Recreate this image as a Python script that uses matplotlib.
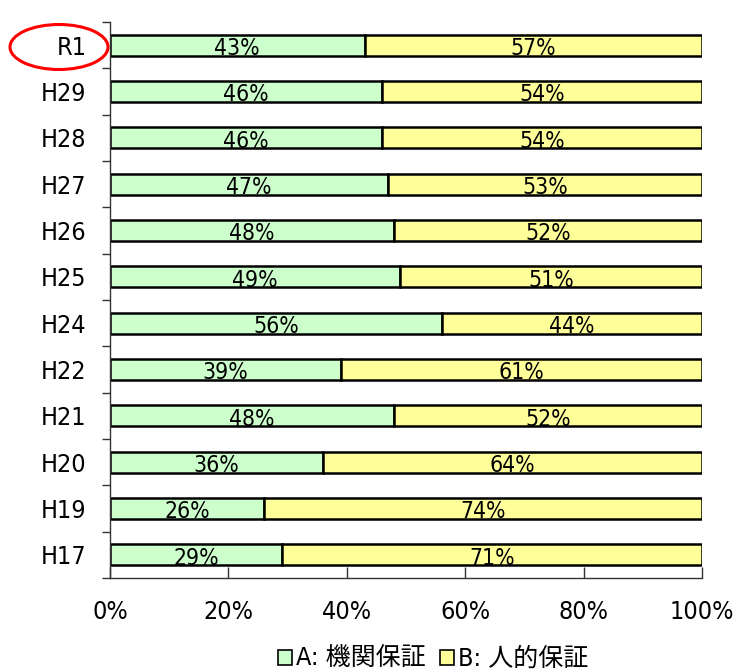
import matplotlib
matplotlib.use("Agg")
import matplotlib.pyplot as plt
from matplotlib.patches import Ellipse, Patch
import numpy as np

plt.rcParams['font.family'] = ['DejaVu Sans', 'Noto Sans CJK JP']
plt.rcParams['font.stretch'] = 'condensed'

categories = ["R1", "H29", "H28", "H27", "H26", "H25", "H24", "H22", "H21", "H20", "H19", "H17"]
a_vals = [43, 46, 46, 47, 48, 49, 56, 39, 48, 36, 26, 29]
b_vals = [57, 54, 54, 53, 52, 51, 44, 61, 52, 64, 74, 71]
series_names = ["A: 機関保証", "B: 人的保証"]
x_ticks = [0, 20, 40, 60, 80, 100]

fig = plt.figure(figsize=(7.34, 6.71), dpi=100)
ax = fig.add_axes([110/734, 1-578/671, (702-110)/734, (578-22)/671])

y = np.arange(len(categories))
h = 0.45
ca, cb = "#CCFFCC", "#FFFF99"
ax.barh(y, a_vals, height=h, color=ca, edgecolor="black", linewidth=1.8)
ax.barh(y, b_vals, left=a_vals, height=h, color=cb, edgecolor="black", linewidth=1.8)

for i in range(len(categories)):
    ax.text(a_vals[i]/2, y[i]+0.215, f"{a_vals[i]}%", ha="center", va="baseline", fontsize=16.5)
    ax.text(a_vals[i] + b_vals[i]/2, y[i]+0.215, f"{b_vals[i]}%", ha="center", va="baseline", fontsize=16.5)

ax.set_ylim(len(categories)-0.5, -0.5)
ax.set_xlim(0, 100)
ax.set_yticks(y)
ax.set_yticklabels(categories, fontsize=18)
ax.set_yticks(np.arange(-0.5, len(categories), 1), minor=True)
ax.tick_params(axis="y", which="major", length=0, pad=17)
ax.tick_params(axis="y", which="minor", length=6, direction="out", width=1, color="#333333")
ax.set_xticks(x_ticks)
ax.set_xticklabels([f"{t}%" for t in x_ticks], fontsize=18)
ax.tick_params(axis="x", direction="in", length=8, pad=16, width=1, color="#333333")
for s in ["top", "right"]:
    ax.spines[s].set_visible(False)
for s in ["left", "bottom"]:
    ax.spines[s].set_color("#333333")
    ax.spines[s].set_linewidth(1)

handles = [Patch(facecolor=ca, edgecolor="black", linewidth=1.2),
           Patch(facecolor=cb, edgecolor="black", linewidth=1.2)]
fig.legend(handles, series_names, loc="center", bbox_to_anchor=(433/734, 1-659/671),
           ncol=2, frameon=False, fontsize=18, handlelength=0.55, handleheight=0.55,
           handletextpad=0.15, columnspacing=0.6)

ell = Ellipse((59/734, 1-47/671), 98/734, 45/671, transform=fig.transFigure,
              fill=False, edgecolor="red", linewidth=2.2)
fig.patches.append(ell)

fig.savefig("out.png", dpi=100)
